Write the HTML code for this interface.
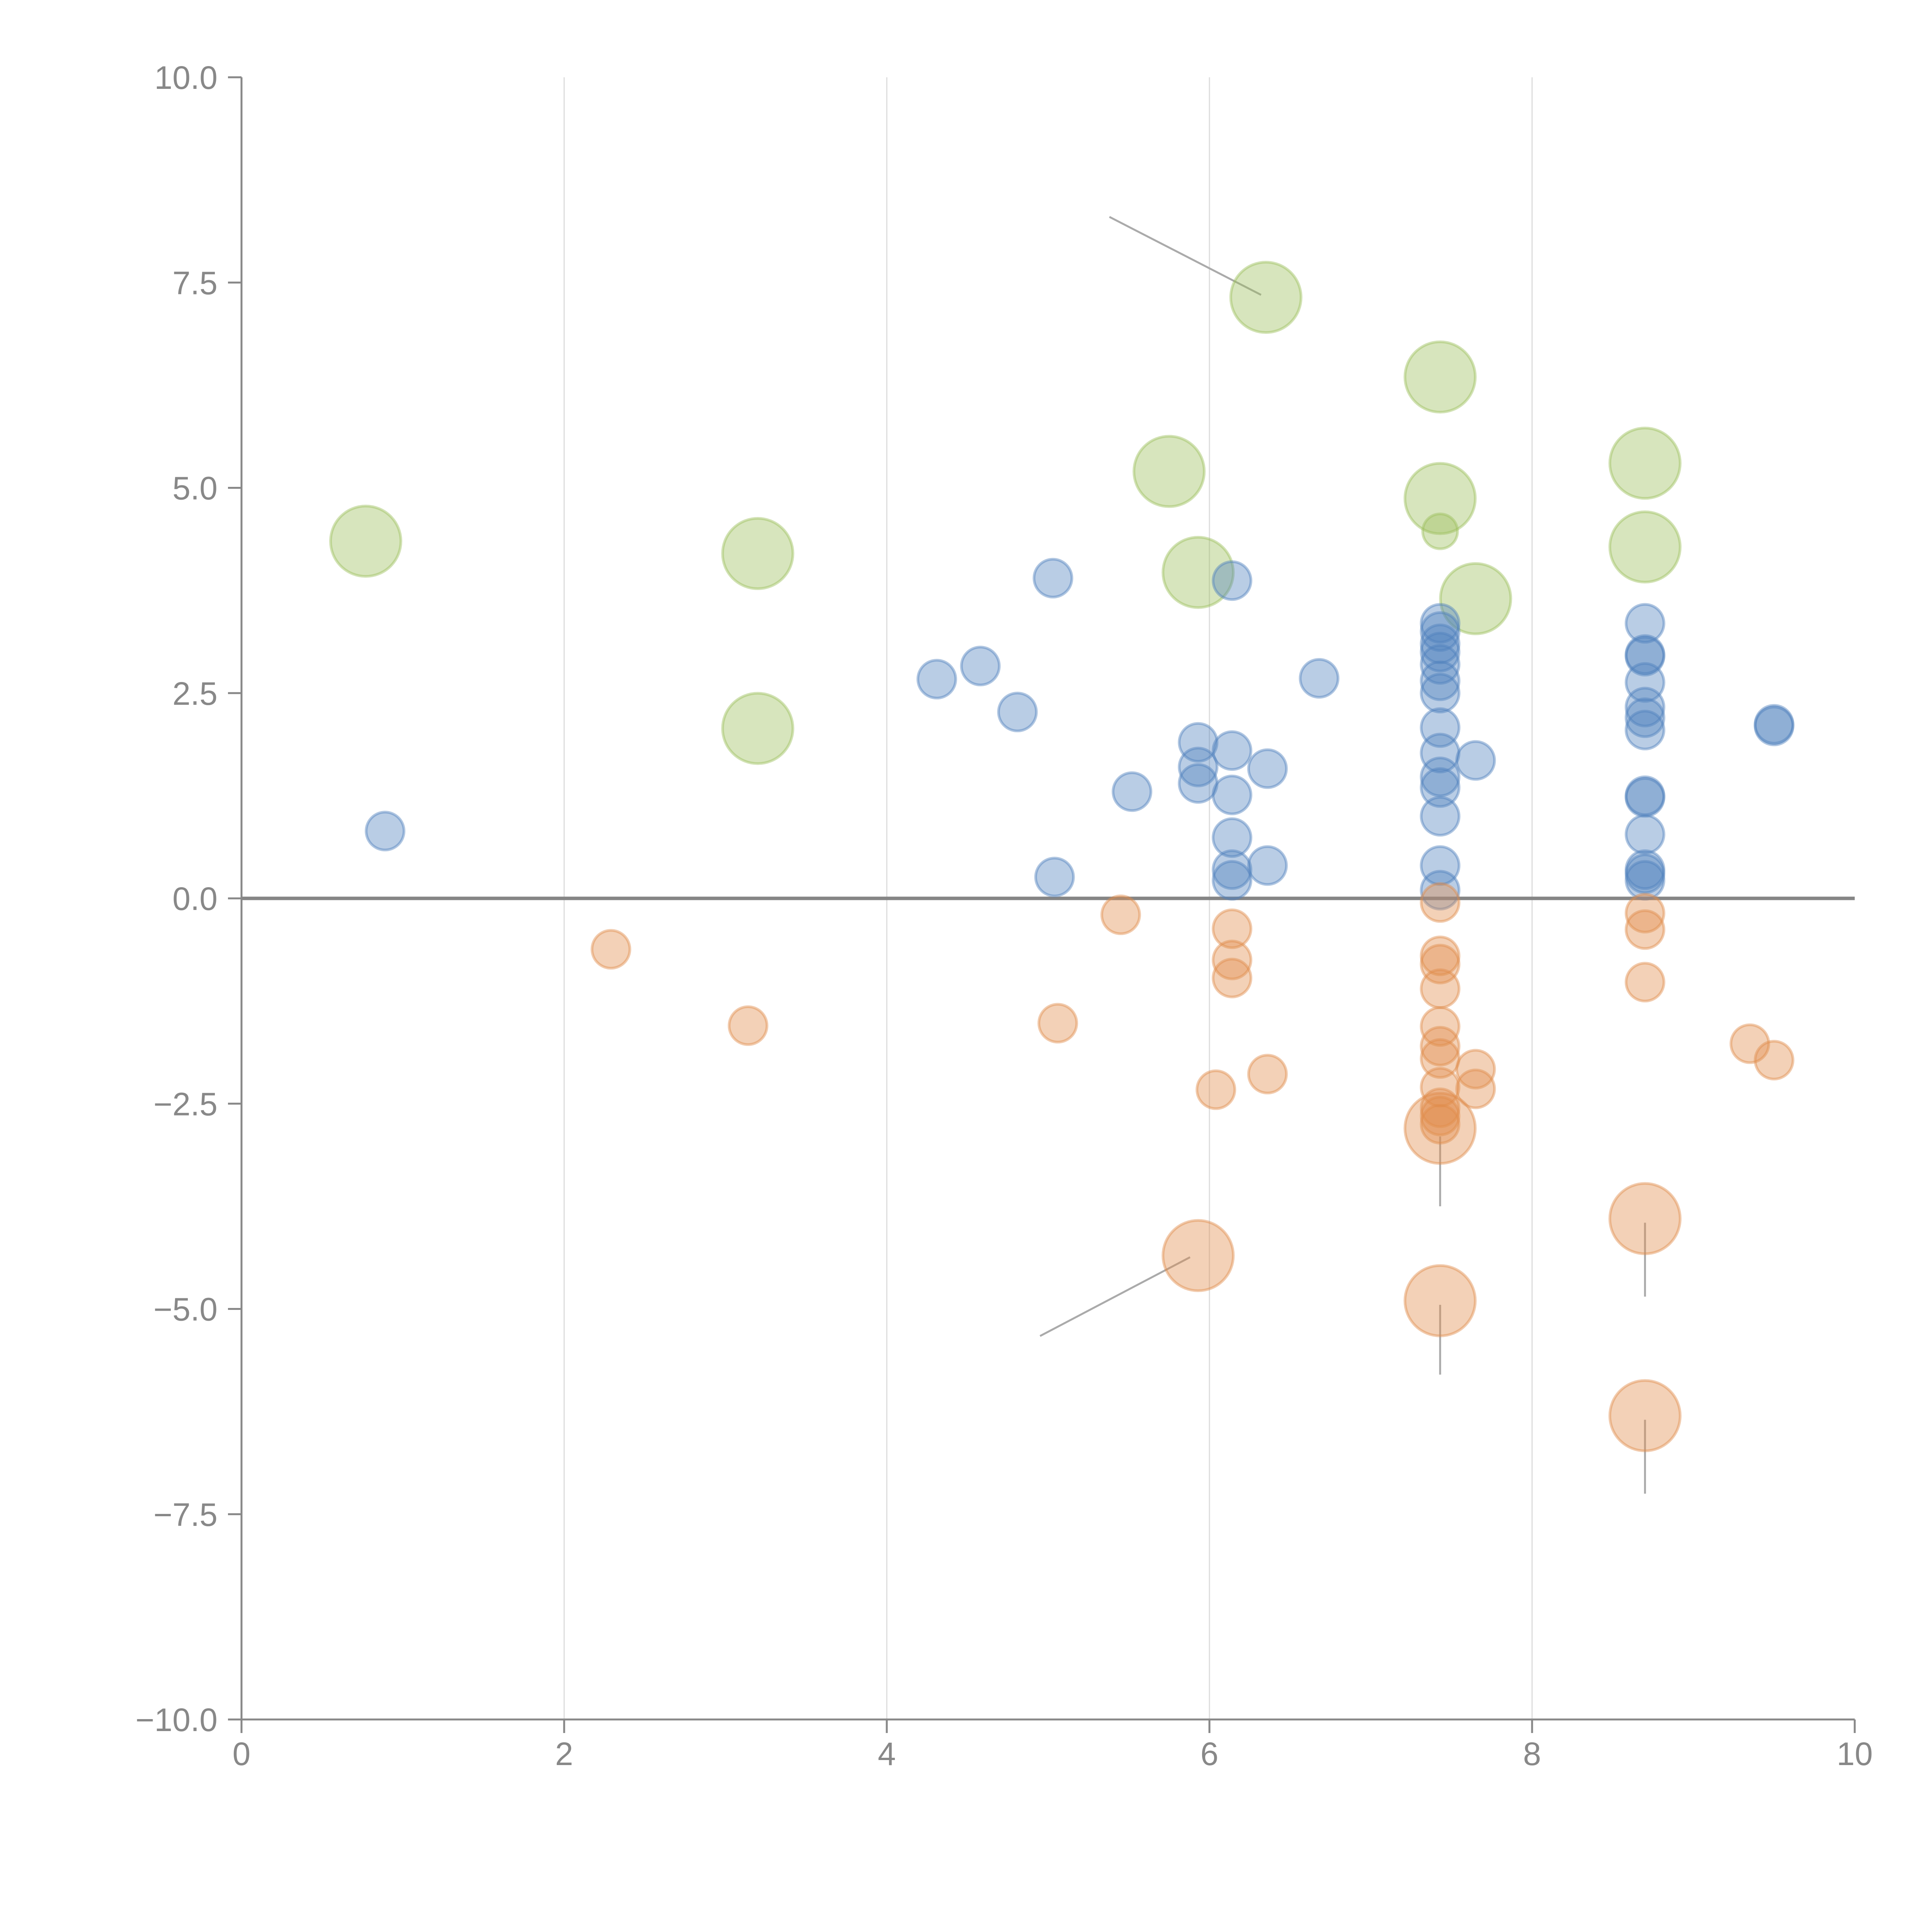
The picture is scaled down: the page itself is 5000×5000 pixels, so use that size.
<!DOCTYPE html>
<html><head><meta charset="utf-8">
<style>html,body{margin:0;padding:0;background:#fff;}svg{display:block;}</style>
</head><body>
<svg id="chart" width="5000" height="5000" viewBox="0 0 5000 5000" xmlns="http://www.w3.org/2000/svg">
<g id="grid"></g>
<g id="ann"></g>
<g id="marks"></g>
<g id="axes"></g>
</svg>
<script>
const xTicks=[0,2,4,6,8,10];
const yTicks=[10,7.5,5,2.5,0,-2.5,-5,-7.5,-10];
const yTickLabels=["10.0","7.5","5.0","2.5","0.0","\u22122.5","\u22125.0","\u22127.5","\u221210.0"];
const greenX=[0.77,3.2,3.2,5.75,5.93,6.35,7.43,7.43,7.43,7.65,8.7,8.7];
const greenY=[4.35,4.2,2.07,5.2,3.97,7.32,6.35,4.87,4.47,3.65,5.3,4.28];
const greenS=[3.45,3.45,3.45,3.45,3.45,3.45,3.45,3.45,0.85,3.45,3.45,3.45];
const blueX=[0.89,4.31,4.58,4.81,5.03,5.04,5.52,5.93,5.93,5.93,6.14,6.14,6.14,6.14,6.14,6.14,6.36,6.36,6.68,
7.43,7.43,7.43,7.43,7.43,7.43,7.43,7.43,7.43,7.43,7.43,7.43,7.43,7.43,7.65,
8.7,8.7,8.7,8.7,8.7,8.7,8.7,8.7,8.7,8.7,8.7,8.7,8.7,9.5,9.5];
const blueY=[0.82,2.67,2.83,2.27,3.9,0.26,1.3,1.9,1.6,1.4,3.87,1.8,1.26,0.74,0.35,0.22,1.58,0.4,2.68,
3.35,3.25,3.1,3.0,2.85,2.65,2.5,2.08,1.77,1.48,1.35,1.0,0.4,0.1,1.68,
3.35,2.97,2.95,2.63,2.33,2.2,2.05,1.25,1.23,0.78,0.35,0.3,0.22,2.12,2.1];
const orangeX=[2.29,3.14,5.06,5.45,6.04,6.14,6.14,6.14,6.36,
7.43,7.43,7.43,7.43,7.43,7.43,7.43,7.43,7.43,7.43,7.43,7.65,7.65,8.7,8.7,8.7,9.35,9.5,
5.93,7.43,7.43,8.7,8.7];
const orangeY=[-0.62,-1.55,-1.52,-0.2,-2.33,-0.37,-0.75,-0.97,-2.14,
-0.05,-0.7,-0.8,-1.1,-1.56,-1.8,-1.95,-2.3,-2.55,-2.65,-2.75,-2.08,-2.32,-0.18,-0.38,-1.02,-1.77,-1.97,
-4.35,-2.8,-4.9,-3.9,-6.3];
const orangeS=[1,1,1,1,1,1,1,1,1,1,1,1,1,1,1,1,1,1,1,1,1,1,1,1,1,1,1,3.45,3.45,3.45,3.45,3.45];
const annX1=[5.38,4.95,7.43,7.43,8.7,8.7];
const annY1=[8.3,-5.33,-2.9,-4.95,-3.95,-6.35];
const annX2=[6.32,5.88,7.43,7.43,8.7,8.7];
const annY2=[7.35,-4.37,-3.75,-5.8,-4.85,-7.25];

const X0=625,X1=4800,Y0=4450,Y1=200;
const sx=v=>X0+(v-0)/(10-0)*(X1-X0);
const sy=v=>Y0-(v+10)/20*(Y0-Y1);
const NS="http://www.w3.org/2000/svg";
function mk(parent,tag,attrs){const e=document.createElementNS(NS,tag);for(const k in attrs)e.setAttribute(k,attrs[k]);parent.appendChild(e);return e;}
const grid=document.getElementById('grid'),ann=document.getElementById('ann'),marks=document.getElementById('marks'),axes=document.getElementById('axes');

xTicks.forEach(t=>{if(t===0||t===10)return;
 const l=mk(grid,'line',{x1:sx(t),x2:sx(t),y1:Y1,y2:Y0,stroke:'#dcdcdc','stroke-width':3});
 
 });
const z=mk(grid,'line',{x1:X0,x2:X1,y1:sy(0),y2:sy(0),stroke:'#858585','stroke-width':9});



annX1.forEach((v,i)=>{const l=mk(ann,'line',{x1:sx(v),y1:sy(annY1[i]),x2:sx(annX2[i]),y2:sy(annY2[i]),stroke:'#aaa','stroke-width':5});
 
 });

function series(xs,ys,ss,color,name){
 xs.forEach((v,i)=>{const r=49*Math.sqrt(ss?ss[i]:1);
  const c=mk(marks,'circle',{cx:sx(v),cy:sy(ys[i]),r:r,fill:color,'fill-opacity':0.4,stroke:color,'stroke-opacity':0.45,'stroke-width':7});
  
  });
}
series(greenX,greenY,greenS,'rgb(155,190,90)','green');
series(blueX,blueY,null,'rgb(79,129,189)','blue');
series(orangeX,orangeY,orangeS,'rgb(225,140,75)','orange');

const ax=mk(axes,'path',{d:`M${X0},${Y1}V${Y0}H${X1}`,fill:'none',stroke:'#888','stroke-width':5});


yTicks.forEach((t,i)=>{
 const tk=mk(axes,'line',{x1:X0-35,x2:X0,y1:sy(t),y2:sy(t),stroke:'#888','stroke-width':5});
 
 
 const tx=mk(axes,'text',{x:X0-62,y:sy(t)+30,'text-anchor':'end','font-family':'Liberation Sans, Arial, sans-serif','font-size':84,fill:'#888'});
 tx.textContent=yTickLabels[i];
 
 });
xTicks.forEach(t=>{
 const tk=mk(axes,'line',{x1:sx(t),x2:sx(t),y1:Y0,y2:Y0+35,stroke:'#888','stroke-width':5});
 
 
 const tx=mk(axes,'text',{x:sx(t),y:4568,'text-anchor':'middle','font-family':'Liberation Sans, Arial, sans-serif','font-size':84,fill:'#888'});
 tx.textContent=String(t);
 
 });
</script>
</body></html>
